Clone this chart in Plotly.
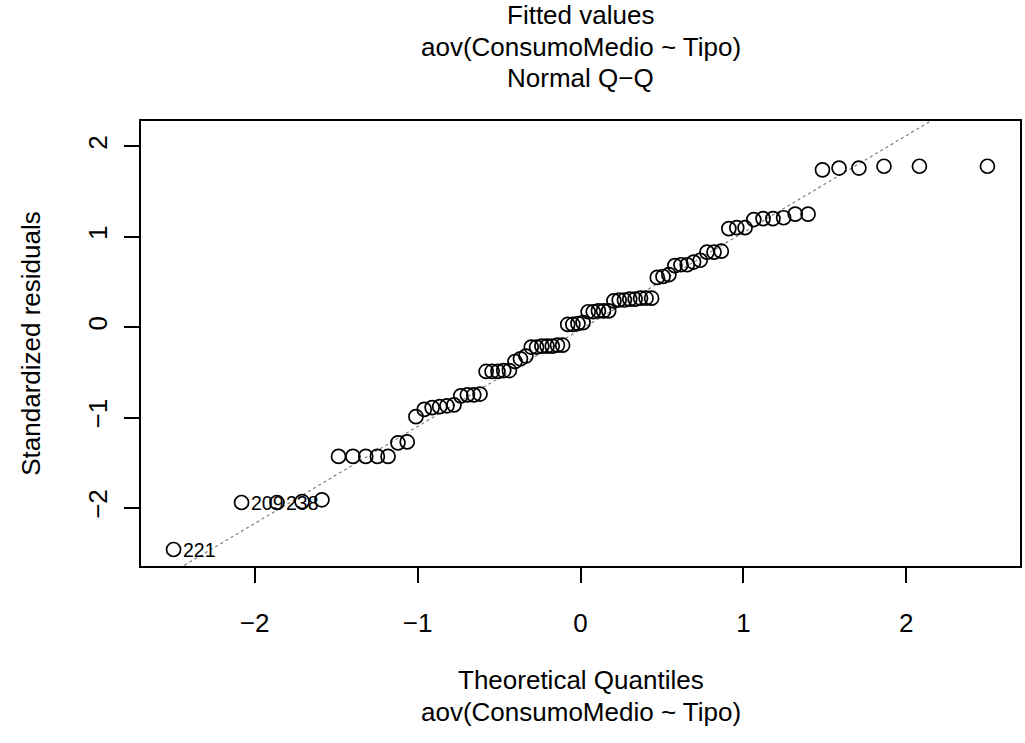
import numpy as np
import plotly.graph_objects as go
from statistics import NormalDist

# Sorted standardized residuals of aov(ConsumoMedio ~ Tipo)
std_resid = [
    -2.46, -1.94, -1.94, -1.93, -1.91,
    -1.43, -1.43, -1.43, -1.43, -1.43,
    -1.28, -1.27,
    -0.99,
    -0.91, -0.89, -0.88, -0.87, -0.86,
    -0.76, -0.75, -0.75, -0.74,
    -0.49, -0.49, -0.49, -0.48, -0.48,
    -0.38, -0.35, -0.32,
    -0.22, -0.22, -0.21, -0.21, -0.21, -0.20, -0.20,
    0.03, 0.03, 0.04, 0.05,
    0.17, 0.17, 0.18, 0.18, 0.18,
    0.29, 0.30, 0.30, 0.31, 0.31, 0.32, 0.32, 0.32,
    0.55, 0.56, 0.58,
    0.68, 0.69, 0.69, 0.72, 0.74,
    0.83, 0.83, 0.84,
    1.09, 1.10, 1.10,
    1.19, 1.20, 1.20, 1.21,
    1.25, 1.25,
    1.74, 1.76, 1.76, 1.78, 1.78, 1.78,
]
# Observations with the largest |residual| (rank in sorted order -> row name)
id_rank = [0, 1, 2]
id_names = ["221", "209", "238"]

tick_vals = [-2, -1, 0, 1, 2]
tick_text = ["\u22122", "\u22121", "0", "1", "2"]

title_lines = ["Fitted values", "aov(ConsumoMedio ~ Tipo)", "Normal Q\u2212Q"]
xlab_lines = ["Theoretical Quantiles", "aov(ConsumoMedio ~ Tipo)"]
ylab = "Standardized residuals"

FONT = "Liberation Sans, Arial, Helvetica, sans-serif"
FS = 26

y = np.array(std_resid)
n = len(y)
nd = NormalDist()
# ppoints(n) for n > 10
x = np.array([nd.inv_cdf((i - 0.5) / n) for i in range(1, n + 1)])

# qqline through the quartiles
yq = np.quantile(y, [0.25, 0.75])
xq = np.array([nd.inv_cdf(0.25), nd.inv_cdf(0.75)])
slope = (yq[1] - yq[0]) / (xq[1] - xq[0])
intercept = yq[0] - slope * xq[0]

# axis limits: data range padded by 4%, extra headroom on y for labels
xlim = [x.min(), x.max()]
ylim = [y.min(), y.max() + 0.075 * (y.max() - y.min())]
def pad(r):
    d = (r[1] - r[0]) * 0.04
    return [r[0] - d, r[1] + d]
xr = pad(xlim)
yr = pad(ylim)

fig = go.Figure()
line_x = np.array([xr[0] - 1, xr[1] + 1])
fig.add_trace(go.Scatter(
    x=line_x, y=intercept + slope * line_x, mode="lines",
    line=dict(color="#7f7f7f", width=1.2, dash="dot"),
    hoverinfo="skip", showlegend=False,
))
fig.add_trace(go.Scatter(
    x=x, y=y, mode="markers",
    marker=dict(symbol="circle-open", size=14, color="black",
                line=dict(color="black", width=1.7)),
    showlegend=False,
))

annotations = []
for r, name in zip(id_rank, id_names):
    annotations.append(dict(
        x=x[r], y=y[r], xref="x", yref="y", text=name, showarrow=False,
        xanchor="left", yanchor="middle", xshift=7,
        font=dict(family=FONT, size=FS * 0.75, color="black"),
    ))

L, R, T, B = 141, 3, 121, 177
W, H = 1025, 743
pw, ph = W - L - R, H - T - B
def py(p):
    return (H - B - p) / ph
def px(p):
    return (p - L) / pw

for txt, yp in zip(title_lines, [15, 47, 78]):
    annotations.append(dict(
        x=0.5, y=py(yp), xref="paper", yref="paper", text=txt,
        showarrow=False, xanchor="center", yanchor="middle",
        font=dict(family=FONT, size=FS, color="black"),
    ))
for txt, yp in zip(xlab_lines, [680, 712]):
    annotations.append(dict(
        x=0.5, y=py(yp), xref="paper", yref="paper", text=txt,
        showarrow=False, xanchor="center", yanchor="middle",
        font=dict(family=FONT, size=FS, color="black"),
    ))
annotations.append(dict(
    x=px(30), y=0.5, xref="paper", yref="paper", text=ylab,
    showarrow=False, xanchor="center", yanchor="middle", textangle=-90,
    font=dict(family=FONT, size=FS, color="black"),
))

axis_common = dict(
    showgrid=False, zeroline=False, showline=True, mirror=True,
    linecolor="black", linewidth=1.5, ticks="outside", ticklen=15,
    tickwidth=1.5, tickcolor="black",
    tickvals=tick_vals, ticktext=tick_text,
    tickfont=dict(family=FONT, size=FS, color="black"),
)

fig.update_layout(
    width=W, height=H,
    margin=dict(l=L, r=R, t=T, b=B),
    paper_bgcolor="white", plot_bgcolor="white",
    xaxis=dict(range=xr, ticklabelstandoff=18, **axis_common),
    yaxis=dict(range=yr, tickangle=-90, ticklabelstandoff=7, **axis_common),
    annotations=annotations,
    font=dict(family=FONT, size=FS, color="black"),
)

fig.write_html("out.html")
